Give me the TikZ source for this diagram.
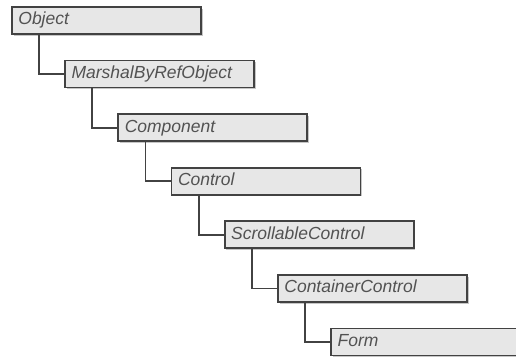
\documentclass[tikz,border=0pt]{standalone}
\usepackage{fontspec}
\setsansfont{Liberation Sans}
\usetikzlibrary{calc}
\usetikzlibrary{positioning}
\usetikzlibrary{shadows}
\tikzset{
  x=1pt, y=-1pt,
  classbox/.style={
    rectangle, anchor=north west,
    minimum width=189pt, minimum height=27pt,
    text width=176pt, align=left, inner xsep=6.5pt, inner ysep=0pt,
    text height=12.5pt, text depth=3.5pt,
    fill=gray!19, draw=black!74, line width=1.8pt,
    general shadow={shadow xshift=1.6pt, shadow yshift=-1.6pt, fill=gray!45},
    font=\sffamily\itshape\fontsize{17.5}{19}\selectfont, text=black!68
  },
  link/.style={draw=black!74, line width=1.8pt}
}

\begin{document}
\begin{tikzpicture}
  \useasboundingbox (0,0) rectangle (516,356);
  \foreach \name [count=\i from 0] in {Object,MarshalByRefObject,Component,Control,ScrollableControl,ContainerControl,Form}
    \node[classbox] (c\i) at ({11+53.2*\i},{6+53.6*\i}) {\name};
  \foreach \i [count=\j from 0] in {1,...,6}
    \draw[link] ($(c\j.south west)+(28,0)$) |- (c\i.west);
\end{tikzpicture}
\end{document}
